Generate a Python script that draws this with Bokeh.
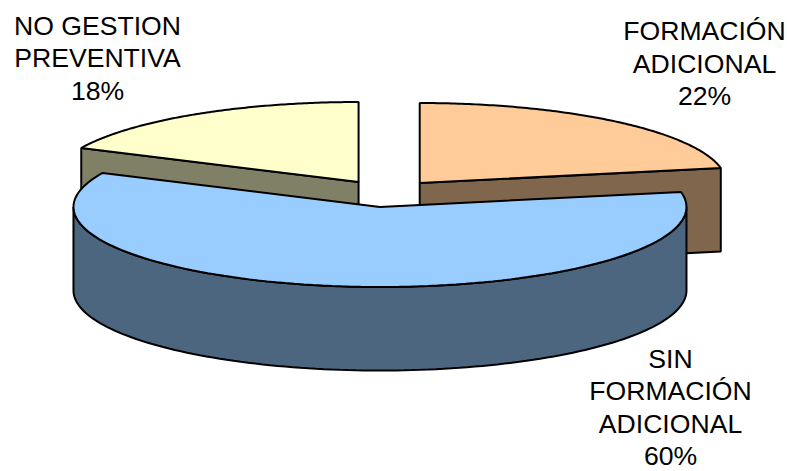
import math
from bokeh.plotting import figure
from bokeh.embed import file_html
from bokeh.resources import INLINE
from bokeh.core.properties import value

# Share of workers per training situation, clockwise from twelve o'clock
categories = ["FORMACIÓN\nADICIONAL", "SIN\nFORMACIÓN\nADICIONAL", "NO GESTION\nPREVENTIVA"]
shares = [22, 60, 18]
top_colors = ["#FFCC99", "#99CCFF", "#FFFFCC"]
wall_colors = ["#80664D", "#4D6680", "#808066"]

# Tilted-disc geometry of the exploded pie, in page pixels
CX, CY = 386.0, 193.0
RX, RY = 306.5, 80.0
DEPTH = 83.5
EXPLODE = 0.17

LABEL_FONT = "Liberation Sans"
LABEL_SIZE = "26.6px"
LINE_STEP = 32.5
label_anchor = {0: (704, 30.5), 1: (670, 358), 2: (97, 25)}

p = figure(width=787, height=471, x_range=(0, 787), y_range=(471, 0),
           output_backend="svg", toolbar_location=None, min_border=0,
           outline_line_color=None, background_fill_color="white", border_fill_color="white")
p.axis.visible = False
p.grid.visible = False


def rim_point(apex, deg):
    t = math.radians(deg)
    return apex[0] + RX * math.cos(t), apex[1] - RY * math.sin(t)


def arc(apex, a0, a1, steps=120):
    pts = [rim_point(apex, a0 + (a1 - a0) * i / steps) for i in range(steps + 1)]
    return [q[0] for q in pts], [q[1] for q in pts]


# Angular extent of every slice, running clockwise
slices = []
start = 90.0
for share in shares:
    sweep = share * 3.6
    end = start - sweep
    mid = math.radians((start + end) / 2)
    apex = (CX + EXPLODE * RX * math.cos(mid), CY - EXPLODE * RY * math.sin(mid))
    slices.append((start, end, apex))
    start = end

OUT = dict(line_color="black", line_width=2)


def radial_wall(i, deg):
    apex = slices[i][2]
    rx, ry = rim_point(apex, deg)
    p.patch([apex[0], rx, rx, apex[0]], [apex[1], ry, ry + DEPTH, apex[1] + DEPTH],
            fill_color=wall_colors[i], **OUT)


def top_face(i):
    a0, a1, apex = slices[i]
    xs, ys = arc(apex, a0, a1)
    p.patch([apex[0]] + xs, [apex[1]] + ys, fill_color=top_colors[i], **OUT)


# Rear slices first, the front slice covers their lower parts
radial_wall(2, slices[2][0])
radial_wall(0, slices[0][1])
top_face(2)
top_face(0)

# Front slice: curved outer wall, then its top
apex = slices[1][2]
xs, ys = arc(apex, -180.0, 0.0)
p.patch(xs + xs[::-1], ys + [y + DEPTH for y in ys[::-1]], fill_color=wall_colors[1], **OUT)
top_face(1)

# Category labels with their percentages
for i, (name, share) in enumerate(zip(categories, shares)):
    lines = name.split("\n") + [f"{share}%"]
    ax, ay = label_anchor[i]
    for k, line in enumerate(lines):
        p.text([ax], [ay + k * LINE_STEP], text=[line], text_align="center", text_baseline="middle",
               text_font=value(LABEL_FONT), text_font_size=LABEL_SIZE, text_color="black")

open("out.html", "w").write(file_html(p, INLINE))
